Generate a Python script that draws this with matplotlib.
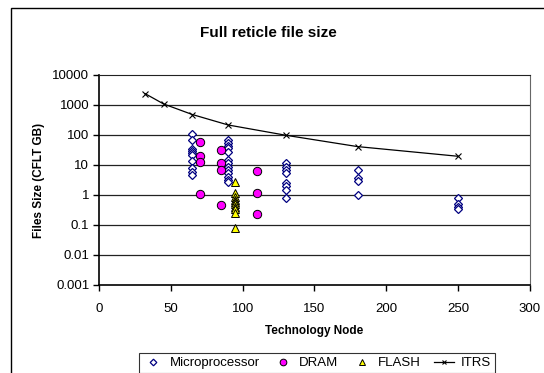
import matplotlib.pyplot as plt
from matplotlib.patches import Rectangle

plt.rcParams['font.family'] = ['Liberation Sans', 'DejaVu Sans']

# file size per technology node (CFLT GB)
mpu_x = [65] * 10 + [90] * 13 + [130] * 8 + [180] * 4 + [250] * 4
mpu_y = [110, 68, 35, 30, 25, 22, 14, 8, 6, 4.7,
         68, 55, 43, 36, 28, 14.7, 11.4, 8.8, 6.8, 5.3, 4.1, 3.2, 2.8,
         11.4, 8.8, 6.8, 5.3, 2.6, 2.0, 1.5, 0.78,
         6.8, 3.6, 3.0, 1.0,
         0.78, 0.5, 0.41, 0.34]

dram_x = [70, 70, 70, 70, 85, 85, 85, 85, 110, 110, 110]
dram_y = [60, 20, 13, 1.05, 31, 12, 6.8, 0.45, 6.5, 1.14, 0.23]

flash_x = [95] * 10
flash_y = [2.8, 1.14, 0.88, 0.7, 0.6, 0.5, 0.41, 0.33, 0.25, 0.078]

itrs_x = [32, 45, 65, 90, 130, 180, 250]
itrs_y = [2400, 1080, 480, 215, 98, 41, 19.5]

fig = plt.figure(figsize=(5.44, 3.73), dpi=100)
ax = fig.add_axes([0.182, 0.236, 0.792, 0.563])

# chart area border
fig.patches.append(Rectangle((11 / 544, -0.1), 1.2, 1 - 8 / 373 + 0.1,
                             transform=fig.transFigure, fill=False,
                             edgecolor='black', lw=1.0, clip_on=False))

for v in [1e-2, 1e-1, 1, 10, 100, 1000]:
    ax.axhline(v, color='#222222', lw=0.9, zorder=1)

ax.plot(mpu_x, mpu_y, linestyle='none', marker='D', markersize=4.2,
        markerfacecolor='white', markeredgecolor='#000080', markeredgewidth=0.9,
        label='Microprocessor', zorder=3)
ax.plot(dram_x, dram_y, linestyle='none', marker='o', markersize=6,
        markerfacecolor='#FF00FF', markeredgecolor='black', markeredgewidth=0.7,
        label='DRAM', zorder=4)
ax.plot(flash_x, flash_y, linestyle='none', marker='^', markersize=6,
        markerfacecolor='#FFFF00', markeredgecolor='black', markeredgewidth=0.7,
        label='FLASH', zorder=4)
ax.plot(itrs_x, itrs_y, color='black', lw=0.9, marker='x', markersize=4,
        markeredgewidth=0.8, label='ITRS', zorder=5)

ax.set_yscale('log')
ax.set_ylim(0.001, 10000)
ax.set_xlim(0, 300)
ax.set_xticks(range(0, 301, 50))
ax.set_yticks([0.001, 0.01, 0.1, 1, 10, 100, 1000, 10000])
ax.set_yticklabels(['0.001', '0.01', '0.1', '1', '10', '100', '1000', '10000'])
ax.minorticks_off()
ax.tick_params(direction='out', length=4, width=1, labelsize=9.5)
ax.tick_params(axis='x', pad=9)
ax.tick_params(axis='y', pad=3)
ax.spines['left'].set_linewidth(1.2)
ax.spines['bottom'].set_linewidth(1.2)
ax.spines['top'].set_color('#222222')
ax.spines['right'].set_color('#666666')

fig.text(268 / 544, 1 - 33 / 373, 'Full reticle file size', fontsize=11,
         fontweight='bold', ha='center', va='center')
ax.set_xlabel('Technology Node', fontsize=8.5, fontweight='bold', labelpad=7)
ax.set_ylabel('Files Size (CFLT GB)', fontsize=8.5, fontweight='bold', labelpad=5)

leg = fig.legend(loc='center', bbox_to_anchor=(317 / 544, 1 - 363 / 373), ncol=4,
                 fontsize=9.5, frameon=True, fancybox=False, edgecolor='black',
                 handlelength=1.5, handletextpad=0.5, columnspacing=1.0,
                 borderpad=0.3, markerscale=0.8)
leg.get_frame().set_linewidth(0.8)

plt.savefig('out.png', dpi=100)
